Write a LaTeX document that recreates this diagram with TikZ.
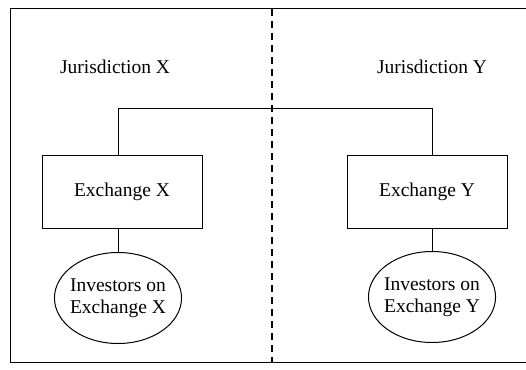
\documentclass[tikz,border=0pt]{standalone}
\usepackage{fontspec}
\setmainfont{Liberation Serif}
\usetikzlibrary{shapes.geometric}
\begin{document}
\begin{tikzpicture}[x=1pt,y=-1pt,line width=1pt,
    font=\fontsize{19.5}{21.5}\selectfont,
    exch/.style={draw,minimum width=160pt,minimum height=73pt},
    inv/.style={draw,ellipse,minimum height=91pt,inner xsep=-3pt,inner ysep=0pt,align=center}]
  \useasboundingbox (0,0) rectangle (526,369);
  \draw (527,9) -- (10,9) -- (10,362) -- (527,362);
  \draw[line width=1.4pt,dash pattern=on 7pt off 5pt] (272,9) -- (272,362);
  \draw
    (115,67) node (jx){Jurisdiction X}
    (432,67) node (jy){Jurisdiction Y}
    (122,192) node[exch] (ex){Exchange X}
    (427,192) node[exch] (ey){Exchange Y}
    (118,298) node[inv] (ix){Investors on\\Exchange X}
    (432,297) node[inv] (iy){Investors on\\Exchange Y};
  \coordinate (top) at (0,108);
  \draw (ex.north -| ix) |- (top -| iy) -- (ey.north -| iy);
  \draw (ex.south -| ix) -- (ix);
  \draw (ey.south -| iy) -- (iy);
\end{tikzpicture}
\end{document}
